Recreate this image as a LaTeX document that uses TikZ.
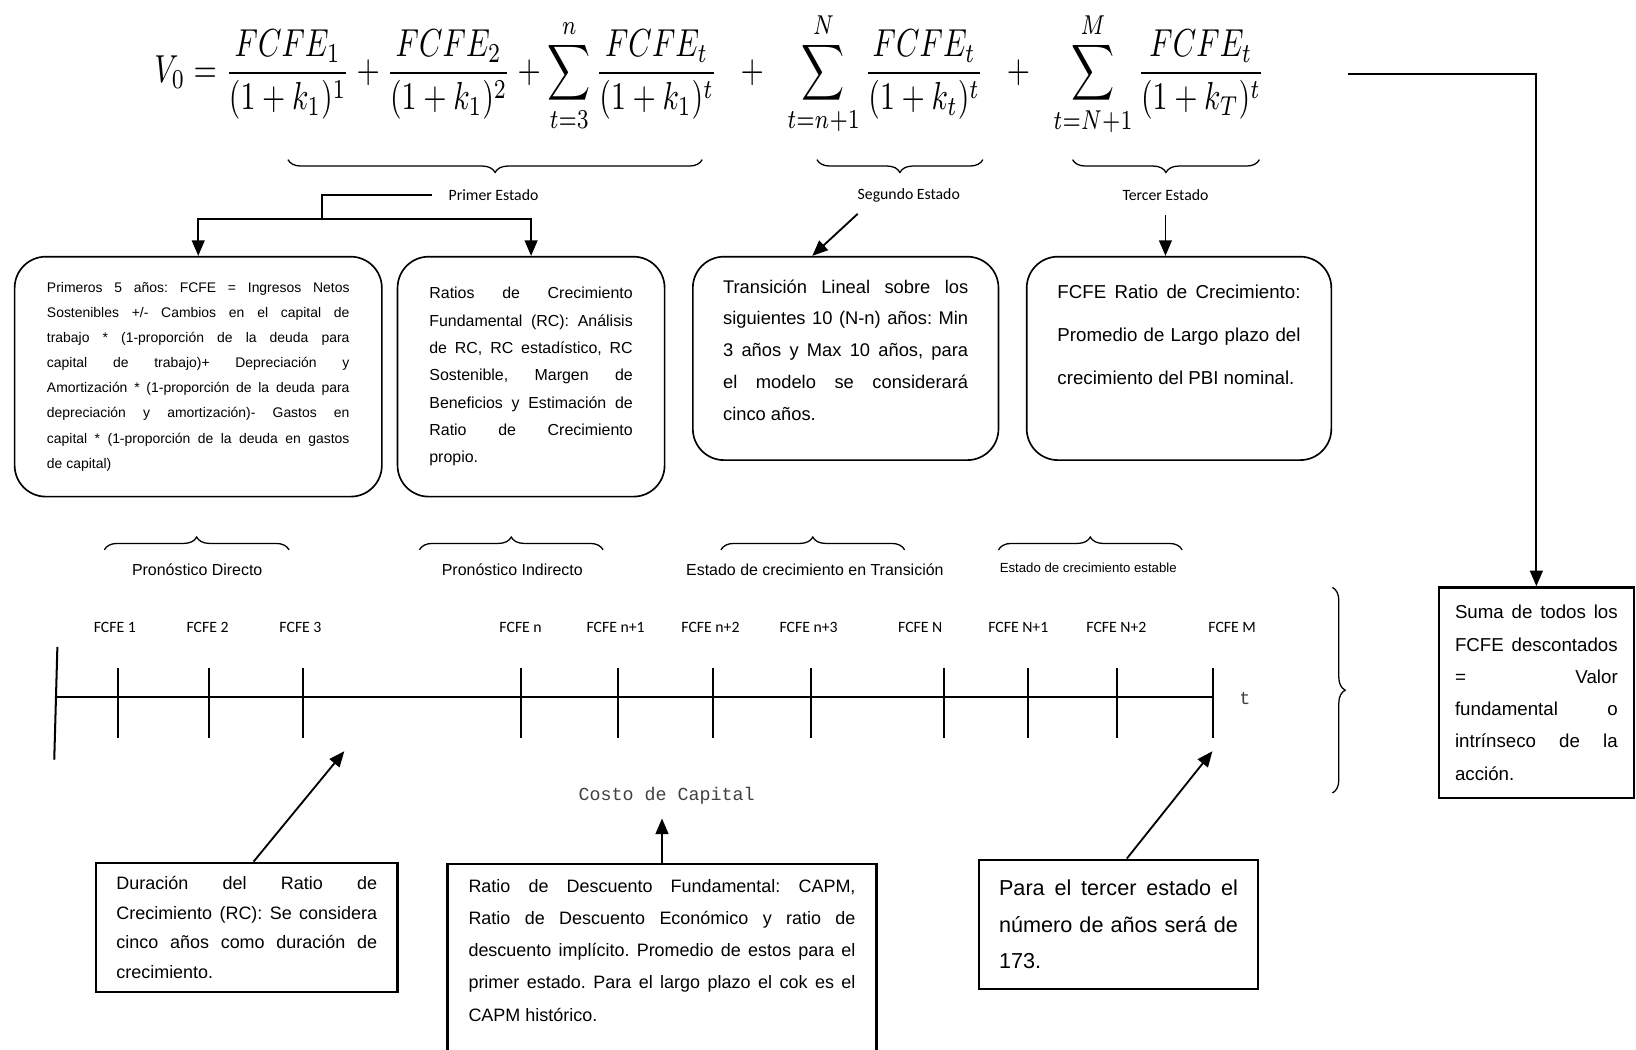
\documentclass[tikz,border=0pt]{standalone}
\usepackage[no-math]{fontspec}
\setmainfont{Liberation Sans}
\setmonofont{Liberation Mono}
\newfontfamily\calibri{Carlito}
\usepackage{amsmath}
\usepackage{graphicx}
\usetikzlibrary{arrows.meta, decorations.pathreplacing}
\tolerance=10000 \hbadness=10000
\hyphenpenalty=10000 \exhyphenpenalty=10000
\frenchspacing
\tikzstyle{roundbox} = [rectangle, rounded corners=17pt, draw=black, line width=0.9pt, align=justify, inner sep=0pt]
\tikzstyle{notebox} = [rectangle, draw=black, line width=1.3pt, align=justify, inner sep=0pt]
\tikzstyle{flow} = [font=\calibri\fontsize{8.6}{10}\selectfont]
\tikzstyle{period} = [font=\fontsize{8.7}{10}\selectfont]
\tikzstyle{mono} = [font=\ttfamily\fontsize{10}{12}\selectfont, text=black!75]
\tikzstyle{arrow} = [line width=1pt,->,>={Triangle[length=8.5pt,width=7pt]}]
\tikzstyle{brc} = [decorate, decoration={brace, amplitude=7pt}, line width=0.7pt]
\tikzstyle{axis} = [line width=1.1pt]

\begin{document}
\begin{tikzpicture}[x=0.02cm, y=-0.02cm]
\useasboundingbox (0,0) rectangle (1568,1006);

% valuation formula and its three states
\node[inner sep=0pt] (formula) at (680,71) {\resizebox*{21.28cm}{2.4cm}{$\displaystyle V_0=\frac{FCFE_1}{(1+k_1)^1}+\frac{FCFE_2}{(1+k_1)^2}+\sum_{t=3}^{n}\frac{FCFE_t}{(1+k_1)^t}\;\;+\;\;\sum_{t=n+1}^{N}\frac{FCFE_t}{(1+k_t)^t}\;\;+\;\;\sum_{t=N+1}^{M}\frac{FCFE_t}{(1+k_T)^t}$}};
\draw[brc] (673,153) -- (276,153);
\draw[brc] (942,153) -- (783,153);
\draw[brc] (1207,153) -- (1028,153);
\node[flow] (primer) at (473,187) {Primer Estado};
\node[flow] (segundo) at (871,187) {Segundo Estado};
\node[flow] (tercer) at (1117,187) {Tercer Estado};

% upper boxes
\node[roundbox, minimum width=7.04cm, minimum height=4.6cm, text width=5.8cm, font=\fontsize{7.6}{13.7}\selectfont] (directo) at (190,361) {Primeros 5 años: FCFE = Ingresos Netos\linebreak Sostenibles +/- Cambios en el capital de\linebreak trabajo * (1-proporción de la deuda para\linebreak capital de trabajo)+ Depreciación y\linebreak Amortización * (1-proporción de la deuda para\linebreak depreciación y amortización)- Gastos en\linebreak capital * (1-proporción de la deuda en gastos\linebreak de capital)};
\node[roundbox, minimum width=5.12cm, minimum height=4.6cm, text width=3.9cm, font=\fontsize{8.7}{14.9}\selectfont] (indirecto) at (509,361) {Ratios de Crecimiento\linebreak Fundamental (RC): Análisis\linebreak de RC, RC estadístico, RC\linebreak Sostenible, Margen de\linebreak Beneficios y Estimación de\linebreak Ratio de Crecimiento\linebreak propio.};
\node[roundbox, minimum width=5.86cm, minimum height=3.9cm, text width=4.7cm, font=\fontsize{10}{17.3}\selectfont] (transicion) at (810.5,343.5) {Transición Lineal sobre los\linebreak siguientes 10 (N-n) años: Min\linebreak 3 años y Max 10 años, para\linebreak el modelo se considerará\linebreak cinco años.\\[-8pt] \mbox{}};
\node[roundbox, minimum width=5.84cm, minimum height=3.9cm, text width=4.66cm, font=\fontsize{10.2}{23.5}\selectfont] (estable) at (1130,343.5) {FCFE Ratio de Crecimiento:\linebreak Promedio de Largo plazo del\linebreak crecimiento del PBI nominal.\\[2pt] \mbox{}};

\coordinate (split) at (309,210);
\coordinate (segtail) at (822,205);
\draw[line width=1pt] ([xshift=-0.2cm]primer.west) -| (split);
\draw[arrow] (split) -| (directo.north);
\draw[arrow] (split) -| (indirecto.north);
\draw[arrow] (segtail) -- ([xshift=-0.64cm]transicion.north);
\draw[arrow] ([yshift=-0.16cm]tercer.south) -- (tercer.south |- estable.north);

% sum of all states
\node[notebox, minimum width=3.74cm, minimum height=4.04cm, text width=3.12cm, font=\fontsize{10.2}{17.6}\selectfont] (suma) at (1472.5,664) {Suma de todos los\linebreak FCFE descontados\linebreak = Valor\linebreak fundamental o\linebreak intrínseco de la\linebreak acción.};
\draw[arrow] ([xshift=1.6cm]formula.east) -| (suma.north);

% forecast periods
\draw[brc] (100,527) -- (277,527);
\draw[brc] (402,527) -- (578,527);
\draw[brc] (691,527) -- (867,527);
\draw[brc] (957,527) -- (1133,527);
\node[period] (pdirecto) at (189,546) {Pronóstico Directo};
\node[period] (pindirecto) at (491,546) {Pronóstico Indirecto};
\node[period] (ptransicion) at (781,546) {Estado de crecimiento en Transición};
\node[font=\fontsize{7.2}{9}\selectfont] (pestable) at (1043,544) {Estado de crecimiento estable};

% time line
\draw[axis] (55,620) -- (52,728);
\draw[axis] (54,668) -- (1163,668);
\foreach \x in {113,200,290,499,592,683,777,905,985,1071,1163}
  \draw[axis] (\x,640) -- (\x,707);
\foreach \x/\lbl in {110/1, 199/2, 288/3, 499/n, 590/n+1, 681/n+2, 775/n+3, 882/N, 976/N+1, 1070/N+2, 1181/M}
  \node[flow] (f\x) at (\x,601) {FCFE \lbl};
\node[mono] (tlabel) at (1193,669) {t};
\draw[brc] (1277,563) -- (1277,760);

% lower notes
\node[mono] (costo) at (639,763) {Costo de Capital};
\node[notebox, minimum width=5.78cm, minimum height=2.48cm, text width=5.0cm, font=\fontsize{9.8}{16.2}\selectfont] (duracion) at (236.5,889) {Duración del Ratio de\linebreak Crecimiento (RC): Se considera\linebreak cinco años como duración de\linebreak crecimiento.};
\node[notebox, anchor=north, inner xsep=0.4cm, inner ysep=0.3cm, text width=7.42cm, font=\fontsize{9.8}{17.5}\selectfont] (descuento) at (634.5,827) {Ratio de Descuento Fundamental: CAPM,\linebreak Ratio de Descuento Económico y ratio de\linebreak descuento implícito. Promedio de estos para el\linebreak primer estado. Para el largo plazo el cok es el\linebreak CAPM histórico.\\ \mbox{}\\ \mbox{}};
\node[notebox, minimum width=5.36cm, minimum height=2.48cm, text width=4.58cm, font=\fontsize{11.8}{19.8}\selectfont] (anos) at (1072,886) {Para el tercer estado el\linebreak número de años será de\linebreak 173.};

\coordinate (tick3) at (330,720);
\coordinate (tickM) at (1162,720);
\draw[arrow] ([xshift=0.13cm]duracion.north) -- (tick3);
\draw[arrow, shorten >=4pt] (descuento.north) -- (descuento.north |- costo.south);
\draw[arrow] ([xshift=0.16cm]anos.north) -- (tickM);
\end{tikzpicture}
\end{document}
